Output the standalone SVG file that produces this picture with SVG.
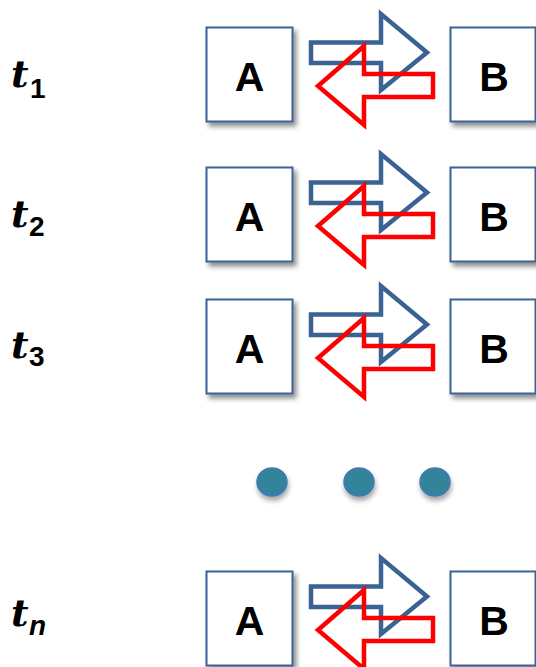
<svg xmlns="http://www.w3.org/2000/svg" width="536" height="667" viewBox="0 0 536 667">
  <defs>
    <filter id="shadow" x="-20%" y="-20%" width="150%" height="150%">
      <feDropShadow dx="3" dy="4" stdDeviation="2.5" flood-color="#000" flood-opacity="0.45"/>
    </filter>
    <filter id="dotShadow" x="-50%" y="-50%" width="200%" height="200%">
      <feDropShadow dx="1" dy="4" stdDeviation="2.5" flood-color="#000" flood-opacity="0.35"/>
    </filter>
    <!-- one time step: A and B with the exchange arrows -->
    <g id="step">
      <rect class="box" x="206.5" y="27.5" width="86" height="94" filter="url(#shadow)"/>
      <text class="lbl" x="249.5" y="91">A</text>
      <rect class="box" x="450.5" y="27.5" width="85" height="94" filter="url(#shadow)"/>
      <text class="lbl" x="494" y="91">B</text>
      <polygon class="fwd" points="311,42.5 381,42.5 381,14 427,52.5 381,90 381,63 311,63"/>
      <polygon class="back" points="433,74 364,74 364,46 318,86 364,125 364,97 433,97"/>
    </g>
  </defs>
  <style>
    .box { fill: #ffffff; stroke: #3b6494; stroke-width: 2; }
    .lbl { font-family: "Liberation Sans", Arial, sans-serif; font-weight: bold; font-size: 41px; text-anchor: middle; fill: #000; }
    .fwd { fill: none; stroke: #3a6292; stroke-width: 4.5; stroke-miterlimit: 10; }
    .back { fill: none; stroke: #ff0000; stroke-width: 4.5; stroke-miterlimit: 10; }
    .t { font-family: "DejaVu Serif", "Liberation Serif", serif; font-style: italic; font-weight: bold; font-size: 38px; fill: #000; }
    .sub { font-family: "Liberation Sans", Arial, sans-serif; font-weight: bold; font-size: 28px; fill: #000; }
    .subi { font-family: "Liberation Sans", Arial, sans-serif; font-style: italic; font-weight: bold; font-size: 28px; fill: #000; }
    .dot { fill: #31849b; stroke: #4a76b8; stroke-width: 1.5; }
  </style>

  <rect width="536" height="667" fill="#ffffff"/>

  <!-- time labels -->
  <g id="labels">
    <text x="11" y="87"><tspan class="t">t</tspan><tspan class="sub" x="30" y="98">1</tspan></text>
    <text x="11" y="227"><tspan class="t">t</tspan><tspan class="sub" x="29" y="236">2</tspan></text>
    <text x="11" y="358"><tspan class="t">t</tspan><tspan class="sub" x="29" y="366">3</tspan></text>
    <text x="11" y="626"><tspan class="t">t</tspan><tspan class="subi" x="29" y="635">n</tspan></text>
  </g>

  <!-- rows of nodes and connectors -->
  <g id="row-t1"><use href="#step"/></g>
  <g id="row-t2"><use href="#step" transform="translate(0,140)"/></g>
  <g id="row-t3"><use href="#step" transform="translate(0,272)"/></g>
  <g id="row-tn"><use href="#step" transform="translate(0,544)"/></g>

  <!-- ellipsis -->
  <g id="ellipsis" filter="url(#dotShadow)">
    <ellipse class="dot" cx="272" cy="482" rx="15" ry="14"/>
    <ellipse class="dot" cx="359" cy="482" rx="15" ry="14"/>
    <ellipse class="dot" cx="435" cy="482" rx="15" ry="14"/>
  </g>
</svg>
